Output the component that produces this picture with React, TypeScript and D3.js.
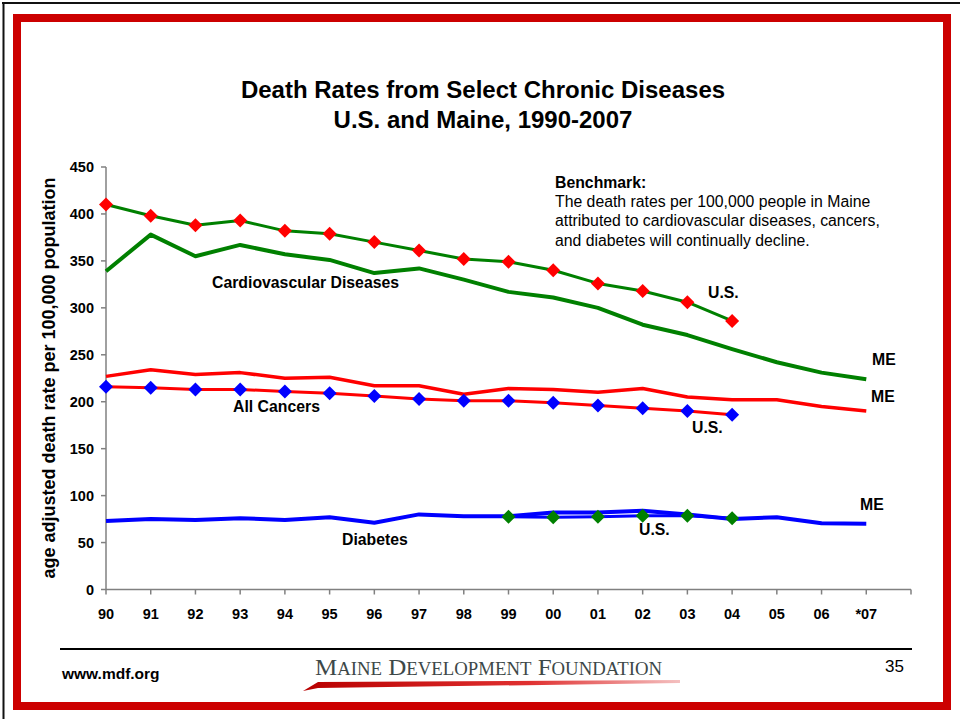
import React from "react";
import * as d3 from "d3";

const categories = ["90","91","92","93","94","95","96","97","98","99","00","01","02","03","04","05","06","*07"];
const yTicks = [0, 50, 100, 150, 200, 250, 300, 350, 400, 450];

// Maine series start at 1990 (index 0); U.S. series start at given index
const meCVD = [339, 378, 355, 367, 357, 351, 337, 342, 330, 317, 311, 300, 282, 271, 256, 242, 231, 224];
const usCVD = [410, 398, 388, 393, 382, 379, 370, 361, 352, 349, 340, 326, 318, 306, 286];
const meCancer = [227, 234, 229, 231, 225, 226, 217, 217, 208, 214, 213, 210, 214, 205, 202, 202, 195, 190];
const usCancer = [216, 215, 213, 213, 211, 209, 206, 203, 201, 201, 199, 196, 193, 190, 186];
const meDiabetes = [73, 75, 74, 76, 74, 77, 71, 80, 78, 78, 82, 82, 84, 80, 75, 77, 70.5, 70];
const usDiabetes = [77.5, 77, 77.5, 78.5, 78.5, 76];
const usDiabetesStart = 9;

const GREEN = "#008000";
const RED = "#ff0000";
const BLUE = "#0000ff";
const FONT = "'Liberation Sans', Arial, Helvetica, sans-serif";

export default function App() {
  const x = d3.scaleLinear().domain([0, 18]).range([106, 911]);
  const y = d3.scaleLinear().domain([0, 450]).range([589.5, 167]);

  const toPts = (arr: number[], start = 0) => arr.map((v, i) => [start + i, v] as [number, number]);
  const line = d3.line<[number, number]>().x(d => x(d[0])).y(d => y(d[1]));
  const diamond = (cx: number, cy: number, r: number) =>
    `M${cx},${cy - r}L${cx + r},${cy}L${cx},${cy + r}L${cx - r},${cy}Z`;

  const series = [
    { data: toPts(meCVD), color: GREEN, w: 4 },
    { data: toPts(usCVD), color: GREEN, w: 3, marker: RED },
    { data: toPts(meCancer), color: RED, w: 3.5 },
    { data: toPts(usCancer), color: RED, w: 3, marker: BLUE },
    { data: toPts(meDiabetes), color: BLUE, w: 4 },
    { data: toPts(usDiabetes, usDiabetesStart), color: BLUE, w: 3, marker: GREEN },
  ];

  const xTickIdx = d3.range(0, 19);

  return (
    <svg width={960} height={719} style={{ position: "absolute", left: 0, top: 0, background: "#fff" }} fontFamily={FONT}>
      <rect x={0} y={0} width={960} height={719} fill="#fff" />
      {/* page edge */}
      <line x1={2} x2={960} y1={3} y2={3} stroke="#111" strokeWidth={2} />
      <line x1={3.5} x2={3.5} y1={2} y2={719} stroke="#111" strokeWidth={2} />
      {/* red frame */}
      <rect x={17} y={18} width={930} height={688} fill="none" stroke="#cc0000" strokeWidth={8} />

      {/* title */}
      <text x={483} y={98} textAnchor="middle" fontSize={24} fontWeight="bold">Death Rates from Select Chronic Diseases</text>
      <text x={483} y={128} textAnchor="middle" fontSize={24} fontWeight="bold">U.S. and Maine, 1990-2007</text>

      {/* benchmark */}
      <g fontSize={15.8}>
        <text x={555} y={188} fontWeight="bold">Benchmark:</text>
        <text x={555} y={207}>The death rates per 100,000 people in Maine</text>
        <text x={555} y={226}>attributed to cardiovascular diseases, cancers,</text>
        <text x={555} y={246}>and diabetes will continually decline.</text>
      </g>

      {/* axes */}
      <g stroke="#808080" strokeWidth={1.5}>
        <line x1={x(0)} x2={x(0)} y1={y(450)} y2={y(0)} />
        <line x1={x(0)} x2={x(18)} y1={y(0)} y2={y(0)} />
        {yTicks.map(t => (
          <line key={"yt" + t} x1={x(0) - 5} x2={x(0)} y1={y(t)} y2={y(t)} />
        ))}
        {xTickIdx.map(i => (
          <line key={"xt" + i} x1={x(i)} x2={x(i)} y1={y(0)} y2={y(0) + 5} />
        ))}
      </g>
      <g fontSize={14.5} fontWeight="bold">
        {yTicks.map(t => (
          <text key={"yl" + t} x={94} y={y(t) + 5} textAnchor="end">{t}</text>
        ))}
        {categories.map((c, i) => (
          <text key={"xl" + c} x={x(i)} y={619} textAnchor="middle">{c}</text>
        ))}
      </g>
      <text transform="translate(55,378) rotate(-90)" textAnchor="middle" fontSize={18} fontWeight="bold">
        age adjusted death rate per 100,000 population
      </text>

      {/* lines */}
      {series.map((s, k) => (
        <path key={"l" + k} d={line(s.data) || ""} fill="none" stroke={s.color} strokeWidth={s.w} strokeLinejoin="round" />
      ))}
      {series.map((s, k) =>
        s.marker
          ? s.data.map((d, i) => (
              <path key={"m" + k + "-" + i} d={diamond(x(d[0]), y(d[1]), 7)} fill={s.marker} />
            ))
          : null
      )}

      {/* series labels */}
      <g fontSize={15.8} fontWeight="bold">
        <text x={212} y={288}>Cardiovascular Diseases</text>
        <text x={233} y={412}>All Cancers</text>
        <text x={342} y={545}>Diabetes</text>
        <text x={708} y={298}>U.S.</text>
        <text x={872} y={365}>ME</text>
        <text x={871} y={402}>ME</text>
        <text x={692} y={433}>U.S.</text>
        <text x={860} y={510}>ME</text>
        <text x={639} y={535}>U.S.</text>
      </g>

      {/* footer */}
      <line x1={60} x2={912} y1={649} y2={649} stroke="#000" strokeWidth={2} />
      <text x={62} y={679} fontSize={15.5} fontWeight="bold">www.mdf.org</text>
      <text x={904} y={672} fontSize={17} textAnchor="end">35</text>
      <defs>
        <linearGradient id="swoosh" x1="0" x2="1" y1="0" y2="0">
          <stop offset="0" stopColor="#b80000" />
          <stop offset="0.6" stopColor="#e03030" />
          <stop offset="1" stopColor="#f4c0c0" />
        </linearGradient>
      </defs>
      <path d="M303,691 L318,682 L680,680 L680,683 L318,688 Z" fill="url(#swoosh)" />
      <text x={315} y={675} fontFamily="'Liberation Serif', 'DejaVu Serif', serif" fill="#3d4848" fontSize={24}
        textLength={347} lengthAdjust="spacingAndGlyphs">
        M<tspan fontSize={18}>AINE</tspan> D<tspan fontSize={18}>EVELOPMENT</tspan> F<tspan fontSize={18}>OUNDATION</tspan>
      </text>
    </svg>
  );
}
